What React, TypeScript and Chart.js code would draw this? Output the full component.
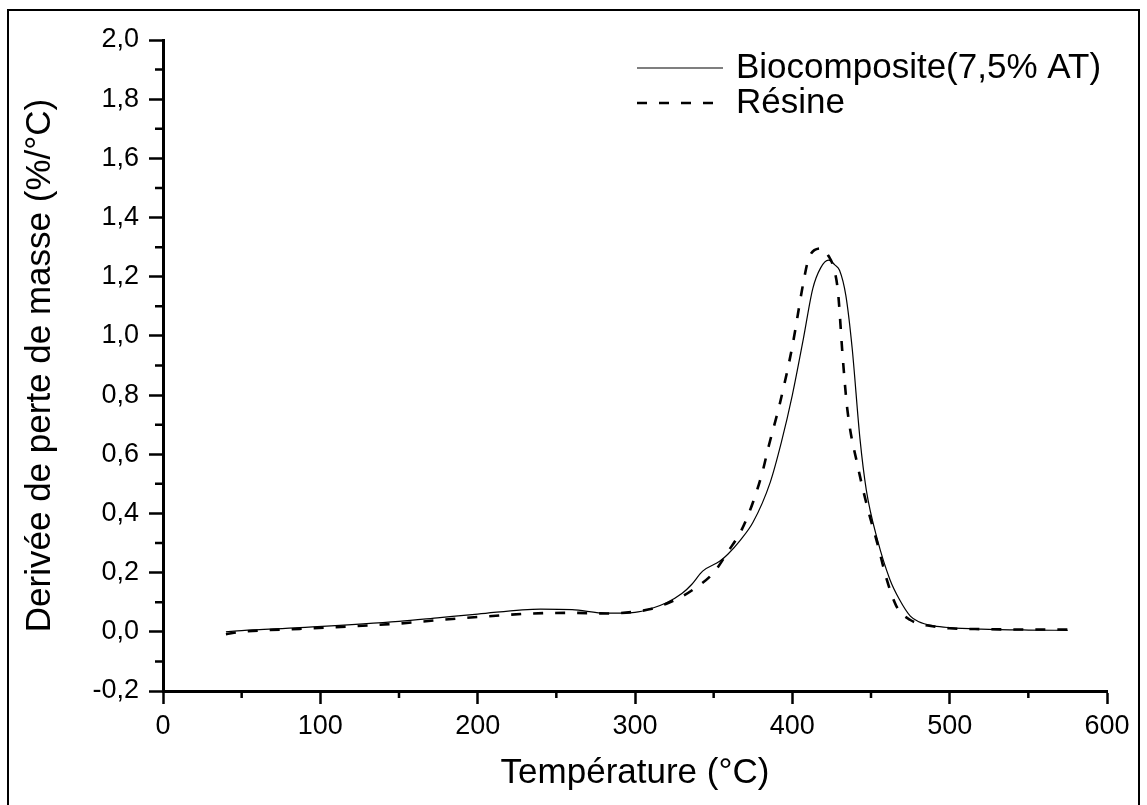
import React, { useEffect, useRef } from "react";
import { Chart, registerables } from "chart.js";

Chart.register(...registerables);

const FONT = '"Liberation Sans", Arial, Helvetica, sans-serif';

// Biocomposite (solid line)
const bioTemperature = [40, 50, 87, 150, 176, 200, 240, 260, 282, 300, 310, 320, 330, 336, 343, 354, 359, 367, 375, 386, 393, 400, 407, 413, 418, 423, 427, 430, 434, 438, 443, 447, 454, 462, 468, 475, 480, 490, 500, 520, 550, 575];
const bioValues = [0.0, 0.004, 0.014, 0.035, 0.048, 0.06, 0.077, 0.075, 0.063, 0.066, 0.078, 0.098, 0.13, 0.16, 0.205, 0.239, 0.262, 0.31, 0.37, 0.506, 0.64, 0.8, 0.99, 1.16, 1.23, 1.256, 1.24, 1.222, 1.137, 0.96, 0.652, 0.48, 0.313, 0.177, 0.11, 0.053, 0.035, 0.02, 0.014, 0.009, 0.006, 0.005];

// Résine (dashed line)
const resineTemperature = [40, 50, 87, 150, 176, 200, 235, 260, 282, 300, 310, 320, 330, 337, 350, 359, 368, 375, 381, 385, 392, 400, 407, 410, 414, 419, 423, 426, 429, 432, 435, 442, 448, 454, 460, 465, 468, 475, 480, 490, 500, 520, 550, 575];
const resineValues = [-0.008, 0.0, 0.01, 0.028, 0.04, 0.05, 0.062, 0.064, 0.062, 0.068, 0.077, 0.095, 0.12, 0.143, 0.2, 0.27, 0.347, 0.438, 0.54, 0.628, 0.77, 0.965, 1.18, 1.255, 1.29, 1.296, 1.27, 1.235, 1.15, 0.93, 0.75, 0.55, 0.415, 0.3, 0.177, 0.1, 0.07, 0.04, 0.028, 0.018, 0.012, 0.009, 0.008, 0.008];

const seriesLabels = ["Biocomposite(7,5% AT)", "Résine"];
const xAxisTitle = "Température (°C)";
const yAxisTitle = "Derivée de perte de masse (%/°C)";

const xMin = 0;
const xMax = 600;
const xStep = 100;
const yMin = -0.2;
const yMax = 2.0;
const yStep = 0.2;

export default function App() {
  const ref = useRef<HTMLCanvasElement>(null);

  useEffect(() => {
    const canvas = ref.current;
    if (!canvas) return;

    const framePlugin = {
      id: "frame",
      beforeDraw(chart: any) {
        const ctx = chart.ctx;
        ctx.save();
        ctx.fillStyle = "#ffffff";
        ctx.fillRect(0, 0, chart.width, chart.height);
        ctx.strokeStyle = "#000000";
        ctx.lineWidth = 2;
        ctx.strokeRect(8, 10, 1131, 900);
        ctx.restore();
      },
    };

    const minorTicksPlugin = {
      id: "minorTicks",
      afterDraw(chart: any) {
        const ctx = chart.ctx;
        const xs = chart.scales.x;
        const ys = chart.scales.y;
        const area = chart.chartArea;
        ctx.save();
        ctx.strokeStyle = "#000000";
        ctx.lineWidth = 2.5;
        ctx.beginPath();
        for (let i = 0; i < ys.ticks.length - 1; i++) {
          const v = (ys.ticks[i].value + ys.ticks[i + 1].value) / 2;
          const py = ys.getPixelForValue(v);
          ctx.moveTo(area.left - 8, py);
          ctx.lineTo(area.left, py);
        }
        for (let i = 0; i < xs.ticks.length - 1; i++) {
          const v = (xs.ticks[i].value + xs.ticks[i + 1].value) / 2;
          const px = xs.getPixelForValue(v);
          ctx.moveTo(px, area.bottom);
          ctx.lineTo(px, area.bottom + 7);
        }
        ctx.stroke();
        ctx.restore();
      },
    };

    const legendPlugin = {
      id: "customLegend",
      afterDraw(chart: any) {
        const ctx = chart.ctx;
        const x0 = 637;
        const x1 = 723;
        const rows = [68, 103];
        ctx.save();
        chart.data.datasets.forEach((ds: any, i: number) => {
          const y = rows[i];
          ctx.strokeStyle = "#000000";
          ctx.lineWidth = ds.borderWidth;
          ctx.setLineDash(ds.borderDash || []);
          ctx.beginPath();
          ctx.moveTo(x0, y);
          ctx.lineTo(x1, y);
          ctx.stroke();
          ctx.setLineDash([]);
          ctx.fillStyle = "#000000";
          ctx.font = `35px ${FONT}`;
          ctx.textBaseline = "alphabetic";
          ctx.textAlign = "left";
          ctx.fillText(ds.label, 736, y + 10);
        });
        ctx.restore();
      },
    };

    const bioPoints = bioTemperature.map((t, i) => ({ x: t, y: bioValues[i] }));
    const resinePoints = resineTemperature.map((t, i) => ({ x: t, y: resineValues[i] }));

    const fmt = (v: number, d: number) => v.toFixed(d).replace(".", ",");

    const chart = new Chart(canvas, {
      type: "line",
      data: {
        datasets: [
          {
            label: seriesLabels[0],
            data: bioPoints,
            borderColor: "#000000",
            borderWidth: 1.2,
            pointRadius: 0,
            fill: false,
            cubicInterpolationMode: "monotone",
          },
          {
            label: seriesLabels[1],
            data: resinePoints,
            borderColor: "#000000",
            borderWidth: 2.6,
            borderDash: [10, 12],
            pointRadius: 0,
            fill: false,
            cubicInterpolationMode: "monotone",
          },
        ],
      },
      options: {
        responsive: false,
        animation: false,
        devicePixelRatio: 1,
        layout: { padding: { left: 0, top: 40, right: 40, bottom: 0 } },
        plugins: {
          legend: { display: false },
          tooltip: { enabled: false },
        },
        scales: {
          x: {
            type: "linear",
            min: xMin,
            max: xMax,
            afterFit(scale: any) {
              scale.height = 114;
            },
            border: { display: true, color: "#000000", width: 3 },
            grid: {
              display: true,
              drawOnChartArea: false,
              drawTicks: true,
              tickLength: 13,
              tickWidth: 2.5,
              tickColor: "#000000",
            },
            ticks: {
              stepSize: xStep,
              color: "#000000",
              font: { family: FONT, size: 27 },
              padding: 6,
              maxRotation: 0,
              callback: (v: any) => String(v),
            },
            title: {
              display: true,
              text: xAxisTitle,
              color: "#000000",
              font: { family: FONT, size: 35 },
              padding: { top: 0, bottom: 11 },
            },
          },
          y: {
            type: "linear",
            min: yMin,
            max: yMax,
            afterFit(scale: any) {
              scale.width = 163;
            },
            border: { display: true, color: "#000000", width: 3 },
            grid: {
              display: true,
              drawOnChartArea: false,
              drawTicks: true,
              tickLength: 14,
              tickWidth: 2.5,
              tickColor: "#000000",
            },
            ticks: {
              stepSize: yStep,
              color: "#000000",
              font: { family: FONT, size: 27 },
              padding: 10,
              callback: (v: any) => fmt(Number(v), 1),
            },
            title: {
              display: true,
              text: yAxisTitle,
              color: "#000000",
              font: { family: FONT, size: 35 },
              padding: { top: 19, bottom: 0 },
            },
          },
        },
      },
      plugins: [framePlugin, minorTicksPlugin, legendPlugin],
    } as any);

    return () => chart.destroy();
  }, []);

  return (
    <canvas
      ref={ref}
      width={1147}
      height={805}
      style={{ position: "fixed", left: 0, top: 0, width: 1147, height: 805 }}
    />
  );
}
